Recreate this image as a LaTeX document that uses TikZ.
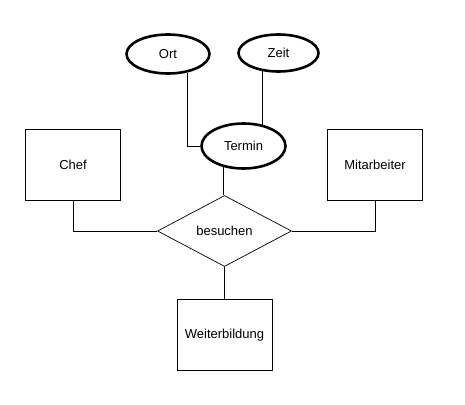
\documentclass[tikz,border=0pt]{standalone}
\usepackage{fontspec}
\setmainfont{Liberation Sans}
\usetikzlibrary{shapes.geometric}

\begin{document}
\begin{tikzpicture}[x=1pt,y=-1pt,
    font=\fontsize{13}{15}\selectfont,
    entity/.style={draw,line width=0.9pt,minimum width=95pt,minimum height=71pt,inner sep=0pt},
    attr/.style={draw,ellipse,line width=2.6pt,inner sep=0pt},
    rel/.style={draw,diamond,line width=0.7pt,minimum width=134pt,minimum height=71pt,inner sep=0pt},
    conn/.style={line width=0.9pt}]
  \useasboundingbox (0,0) rectangle (465,404);
  % entities and relation
  \node[entity] (Chef) at (73,165) {Chef};
  \node[entity] (Mitarbeiter) at (375,165) {Mitarbeiter};
  \node[rel] (besuchen) at (224.5,231) {besuchen};
  \node[entity] (Weiterbildung) at (224.5,335) {Weiterbildung};
  % attributes
  \node[attr,minimum width=84pt,minimum height=45pt] (Termin) at (243.5,146) {Termin};
  \node[attr,minimum width=83pt,minimum height=39pt] (Ort) at (168,54) {Ort};
  \node[attr,minimum width=80pt,minimum height=37pt] (Zeit) at (278.5,53) {Zeit};
  % connectors
  \draw[conn] (Chef.south) |- (besuchen.west);
  \draw[conn] (Mitarbeiter.south) |- (besuchen.east);
  \draw[conn] (besuchen.south) -- (Weiterbildung.north);
  \draw[conn] (Termin.227) -- (Termin.227 |- besuchen.north);
  \draw[conn] (Ort.-44) |- (Termin.west);
  \draw[conn] (Zeit.-132) -- (Zeit.-132 |- Termin.46);
\end{tikzpicture}
\end{document}
